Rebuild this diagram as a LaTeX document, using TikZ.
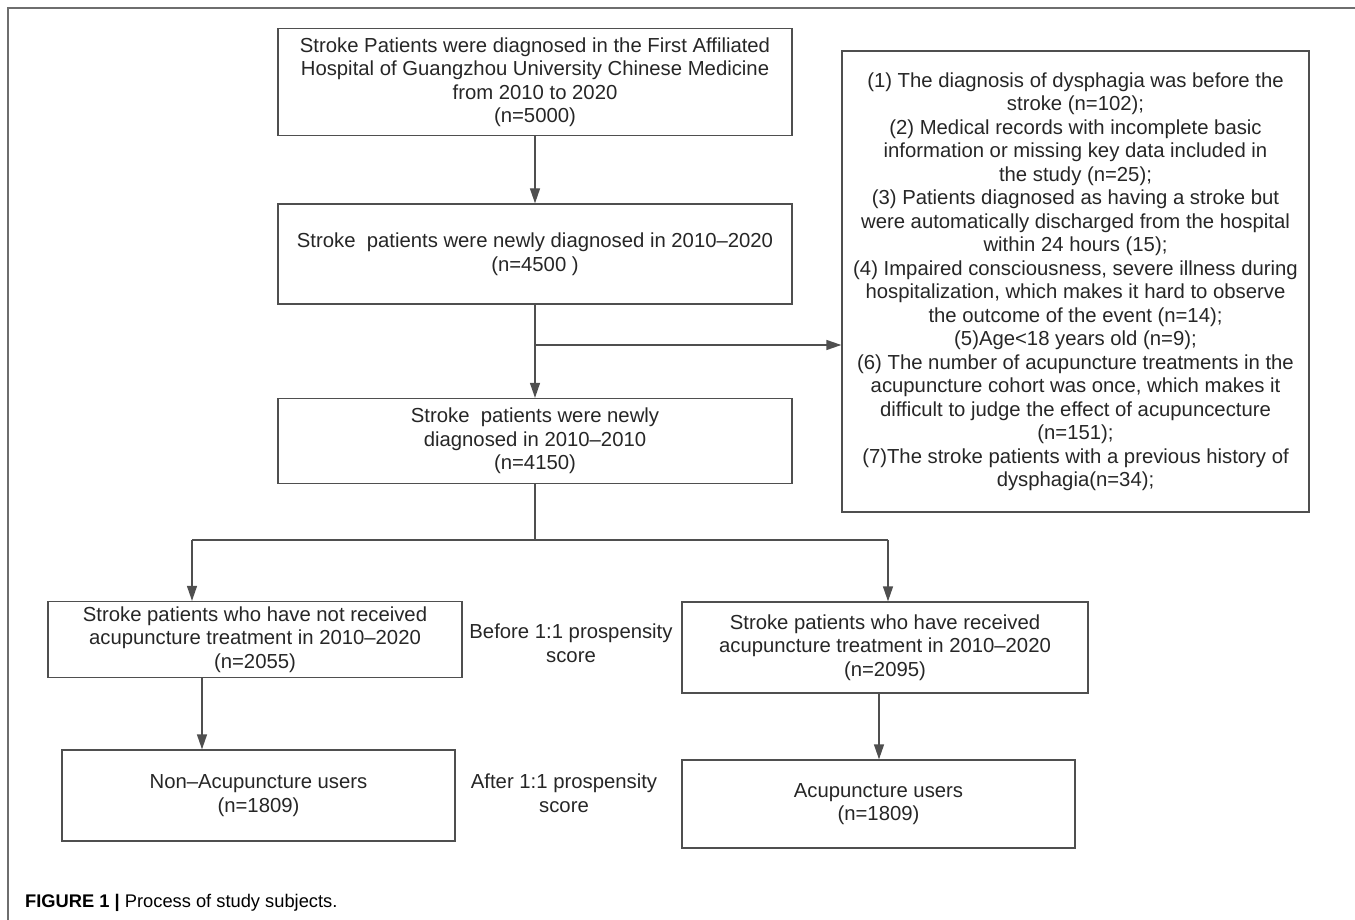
\documentclass[tikz,border=0pt]{standalone}
\usepackage{fontspec}
\setmainfont{Liberation Sans}
\usepackage{xcolor}
\usepackage{tikz}
\usetikzlibrary{positioning, arrows.meta}

\definecolor{linegray}{HTML}{4F4F4F}
\definecolor{framegray}{HTML}{6E6E6E}
\definecolor{textgray}{HTML}{262626}

\begin{document}
\begin{tikzpicture}[x=1pt,y=-1pt]
	\tikzstyle{box}=[draw=linegray, line width=1.3pt, align=center, inner sep=0pt, text=textgray, font=\fontsize{20.3}{23.5}\selectfont]
	\tikzstyle{note}=[align=center, inner sep=0pt, text=textgray, font=\fontsize{20.3}{23.5}\selectfont]
	\tikzstyle{arr}=[draw=linegray, line width=1.3pt, -{Triangle[length=15pt,width=10pt]}]
	\tikzstyle{line}=[draw=linegray, line width=1.3pt]
	\useasboundingbox (0,0) rectangle (1355,920);
	\draw[framegray, line width=1.2pt] (8,920) -- (8,8) -- (1355,8);
	% main column
	\node[box, minimum width=514pt, minimum height=107pt](b1) at (535,82)
		{Stroke Patients were diagnosed in the First Affiliated\\Hospital of Guangzhou University Chinese Medicine\\from 2010 to 2020\\(n=5000)};
	\node[box, minimum width=514pt, minimum height=100pt](b2) at (535,254)
		{Stroke\ \ patients were newly diagnosed in 2010--2020\\(n=4500 )};
	\node[box, minimum width=514pt, minimum height=85pt](b3) at (535,441)
		{Stroke\ \ patients were newly\\diagnosed in 2010--2010\\(n=4150)};
	% exclusions
	\node[box, minimum width=467pt, minimum height=461pt](excl) at (1075.5,281.5)
		{(1) The diagnosis of dysphagia was before the\\stroke (n=102);\\
		(2) Medical records with incomplete basic\\information or missing key data included in\\the study (n=25);\\
		(3) Patients diagnosed as having a stroke but\\were automatically discharged from the hospital\\within 24 hours (15);\\
		(4) Impaired consciousness, severe illness during\\hospitalization, which makes it hard to observe\\the outcome of the event (n=14);\\
		(5)Age<18 years old (n=9);\\
		(6) The number of acupuncture treatments in the\\acupuncture cohort was once, which makes it\\difficult to judge the effect of acupuncecture\\(n=151);\\
		(7)The stroke patients with a previous history of\\dysphagia(n=34);};
	% two cohorts
	\node[box, minimum width=414pt, minimum height=76pt](b4) at (255,639.5)
		{Stroke patients who have not received\\acupuncture treatment in 2010--2020\\(n=2055)};
	\node[box, minimum width=406pt, minimum height=91pt](b5) at (885,647.5)
		{Stroke patients who have received\\acupuncture treatment in 2010--2020\\(n=2095)};
	\node[box, minimum width=393pt, minimum height=91pt](b6) at (258.5,795.5)
		{Non--Acupuncture users\\(n=1809)};
	\node[box, minimum width=393pt, minimum height=88pt](b7) at (878.5,804)
		{Acupuncture users\\(n=1809)};
	\node[note](before) at (571,643) {Before 1:1 prospensity\\score};
	\node[note](after) at (564,793) {After 1:1 prospensity\\score};
	\node[anchor=west, inner sep=0pt, font=\fontsize{18.3}{20}\selectfont](cap) at (25,903)
		{\textbf{FIGURE 1 |} Process of study subjects.};
	% connectors
	\coordinate (split) at (535,345);
	\coordinate (fork) at (535,540);
	\coordinate (forkL) at (192,540);
	\coordinate (forkR) at (888,540);
	\coordinate (l4) at (202,0);
	\coordinate (l5) at (879,0);
	\draw[arr] (b1) -- (b2);
	\draw[arr] (b2) -- (b3);
	\draw[arr] (split) -- (split -| excl.west);
	\draw[line] (b3) -- (fork);
	\draw[line] (forkL) -- (forkR);
	\draw[arr] (forkL) -- (forkL |- b4.north);
	\draw[arr] (forkR) -- (forkR |- b5.north);
	\draw[arr] (b4.south -| l4) -- (b6.north -| l4);
	\draw[arr] (b5.south -| l5) -- (b7.north -| l5);
\end{tikzpicture}
\end{document}
